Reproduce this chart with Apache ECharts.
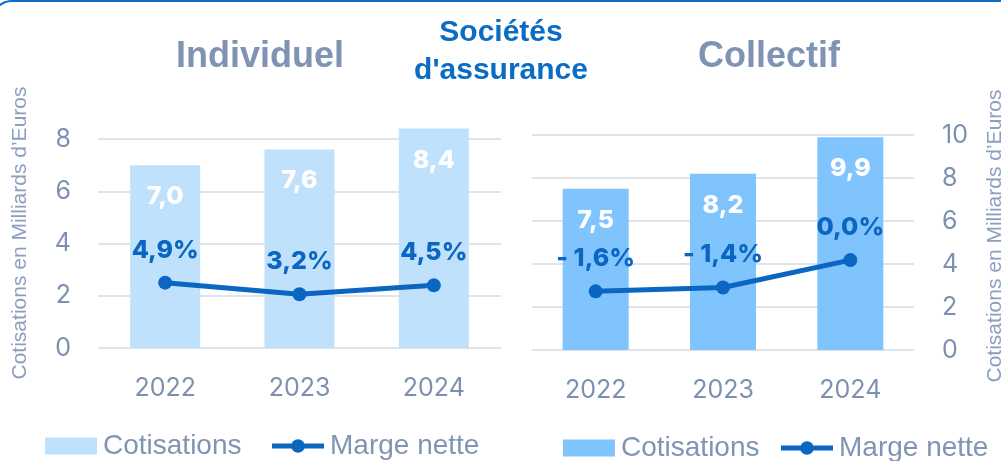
<!DOCTYPE html>
<html>
<head>
<meta charset="utf-8">
<title>Sociétés d'assurance</title>
<style>
    html, body { margin: 0; padding: 0; background: #fff; }
    #main { width: 1001px; height: 461px; }
</style>
</head>
<body>
<div id="main"></div>
<script src="https://cdn.jsdelivr.net/npm/echarts@6/dist/echarts.min.js"></script>
<script type="text/javascript">
    // données
    var years = ['2022', '2023', '2024'];
    var indivCotis = [7.0, 7.6, 8.4];
    var indivMarge = [4.9, 3.2, 4.5];
    var collCotis = [7.5, 8.2, 9.9];
    var collMarge = [-1.6, -1.4, 0.0];

    var blue = '#0b66c2';
    var greyBlue = '#7d90b2';
    var lightBar = '#c0e1fb';
    var darkBar = '#80c4fe';

    function fmt(v) {
        return v.toFixed(1).replace('.', ',');
    }
    function fmtPct(v) {
        if (v < 0) return '- ' + fmt(-v) + '%';
        return fmt(v) + '%';
    }

    var chart = echarts.init(document.getElementById('main'));

    var xAxisBase = {
        type: 'category',
        data: years,
        axisLine: { show: false },
        axisTick: { show: false },
        axisLabel: { color: greyBlue, fontSize: 25, fontFamily: 'Inter', margin: 28 }
    };

    var barLabel = {
        show: true,
        position: 'insideTop',
        distance: 19,
        color: '#fff',
        fontWeight: 800,
        fontSize: 25,
        fontFamily: 'Inter',
        formatter: function (p) { return fmt(p.value); }
    };

    var lineLabel = {
        show: true,
        position: 'top',
        distance: 13,
        color: blue,
        fontWeight: 800,
        fontSize: 25,
        fontFamily: 'Inter',
        formatter: function (p) { return fmtPct(p.value); }
    };

    var legendBase = {
        padding: 0,
        width: 480,
        itemWidth: 52, itemHeight: 17,
        textStyle: { color: '#8094b4', fontSize: 28, fontFamily: 'Liberation Sans', padding: [0, 0, 0, 1] },
        lineStyle: { width: 5 }
    };

    var option = {
        backgroundColor: '#fff',
        animation: false,
        graphic: [
            {
                type: 'rect', silent: true,
                shape: { x: -8, y: 1, width: 1060, height: 490, r: 20 },
                style: { fill: 'none', stroke: '#0a6cc4', lineWidth: 2 }
            },
            {
                type: 'text', x: 260, y: 57,
                style: { text: 'Individuel', align: 'center', verticalAlign: 'middle',
                    font: 'bold 36px "Liberation Sans"', fill: '#7f93b3' }
            },
            {
                type: 'text', x: 769, y: 57,
                style: { text: 'Collectif', align: 'center', verticalAlign: 'middle',
                    font: 'bold 36px "Liberation Sans"', fill: '#7f93b3' }
            },
            {
                type: 'text', x: 501, y: 33,
                style: { text: 'Sociétés', align: 'center', verticalAlign: 'middle',
                    font: 'bold 30px "Liberation Sans"', fill: '#0a6cc4' }
            },
            {
                type: 'text', x: 501, y: 71,
                style: { text: "d'assurance", align: 'center', verticalAlign: 'middle',
                    font: 'bold 30px "Liberation Sans"', fill: '#0a6cc4' }
            },
            {
                type: 'text', x: 20, y: 233, rotation: Math.PI / 2,
                style: { text: 'Cotisations en Milliards d\u2019Euros', align: 'center', verticalAlign: 'middle',
                    font: '21px "Liberation Sans"', fill: '#8d9ec0' }
            },
            {
                type: 'text', x: 995, y: 236, rotation: Math.PI / 2,
                style: { text: 'Cotisations en Milliards d\u2019Euros', align: 'center', verticalAlign: 'middle',
                    font: '21px "Liberation Sans"', fill: '#8d9ec0' }
            }
        ],
        legend: [
            Object.assign({}, legendBase, {
                left: 45, top: 432, itemGap: 28,
                data: [
                    { name: 'Cotisations', icon: 'rect', itemStyle: { color: lightBar } },
                    { name: 'Marge nette' }
                ]
            }),
            Object.assign({}, legendBase, {
                left: 563, top: 434, itemGap: 19,
                data: [
                    { name: 'Cotisations', icon: 'rect', itemStyle: { color: darkBar } },
                    { name: 'Marge nette' }
                ]
            })
        ],
        grid: [
            { left: 98, top: 139, width: 403, height: 209 },
            { left: 532, top: 135, width: 382, height: 215 }
        ],
        xAxis: [
            Object.assign({ gridIndex: 0 }, xAxisBase),
            Object.assign({ gridIndex: 1 }, xAxisBase)
        ],
        yAxis: [
            {
                gridIndex: 0, type: 'value', min: 0, max: 8, interval: 2,
                axisLine: { show: false }, axisTick: { show: false },
                axisLabel: { color: greyBlue, fontSize: 25, fontFamily: 'Inter', margin: 27 },
                splitLine: { lineStyle: { color: '#dfe3ea', width: 2 } }
            },
            {
                gridIndex: 0, type: 'value', min: -4.7, max: 26, show: false,
                splitLine: { show: false }
            },
            {
                gridIndex: 1, type: 'value', min: 0, max: 10, interval: 2, position: 'right',
                axisLine: { show: false }, axisTick: { show: false },
                axisLabel: { color: greyBlue, fontSize: 25, fontFamily: 'Inter', margin: 28 },
                splitLine: { lineStyle: { color: '#dfe3ea', width: 2 } }
            },
            {
                gridIndex: 1, type: 'value', min: -4.6, max: 6.4, show: false, position: 'left',
                splitLine: { show: false }
            }
        ],
        series: [
            {
                name: 'Cotisations', type: 'bar', xAxisIndex: 0, yAxisIndex: 0,
                barWidth: 70, clip: false,
                itemStyle: { color: lightBar },
                label: barLabel,
                data: indivCotis
            },
            {
                name: 'Marge nette', type: 'line', xAxisIndex: 0, yAxisIndex: 1,
                symbol: 'circle', symbolSize: 14,
                lineStyle: { color: blue, width: 5 },
                itemStyle: { color: blue },
                label: lineLabel,
                data: indivMarge
            },
            {
                name: 'Cotisations', type: 'bar', xAxisIndex: 1, yAxisIndex: 2,
                barWidth: 66, clip: false,
                itemStyle: { color: darkBar },
                label: barLabel,
                data: collCotis
            },
            {
                name: 'Marge nette', type: 'line', xAxisIndex: 1, yAxisIndex: 3,
                symbol: 'circle', symbolSize: 14,
                lineStyle: { color: blue, width: 5 },
                itemStyle: { color: blue },
                label: lineLabel,
                data: collMarge
            }
        ]
    };

    chart.setOption(option, true);
</script>
</body>
</html>
